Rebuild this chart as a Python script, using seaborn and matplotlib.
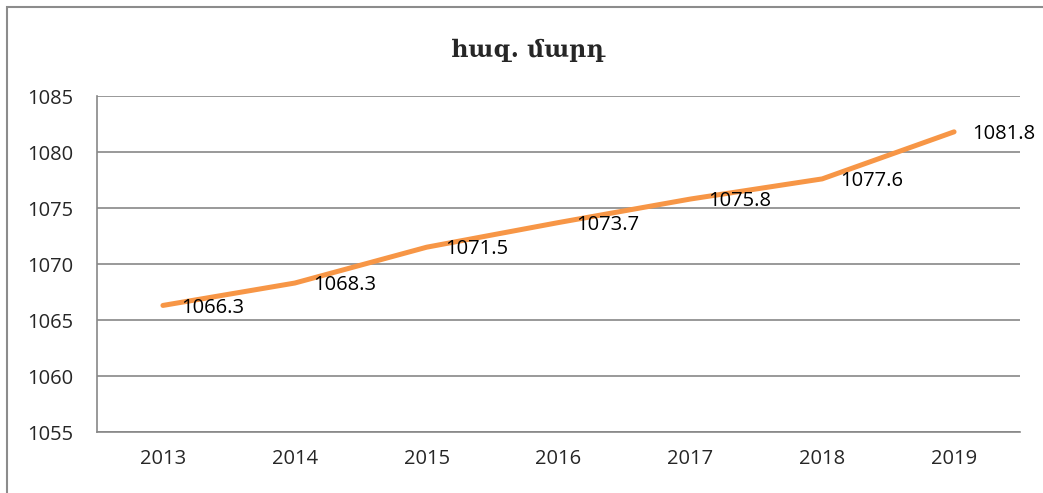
import matplotlib
matplotlib.use("Agg")
import matplotlib.pyplot as plt
import seaborn as sns
import pandas as pd
from matplotlib.patches import Rectangle

years = ["2013", "2014", "2015", "2016", "2017", "2018", "2019"]
values = [1066.3, 1068.3, 1071.5, 1073.7, 1075.8, 1077.6, 1081.8]
title = "հազ. մարդ"
yticks = [1055, 1060, 1065, 1070, 1075, 1080, 1085]

sns.set_theme(style="white")
plt.rcParams['font.family'] = ['Open Sans', 'DejaVu Sans']

W, H = 1043, 493
fig = plt.figure(figsize=(W / 100, H / 100), dpi=100)
ax = fig.add_axes([97 / W, 1 - 432 / H, (1020 - 97) / W, (432 - 96) / H])

df = pd.DataFrame({"year": years, "value": values})
df["x"] = range(len(years))
sns.lineplot(data=df, x="x", y="value", ax=ax, color="#F79646", lw=3.6,
             solid_capstyle="round", solid_joinstyle="round")

ax.set_xlim(-0.5, len(years) - 0.5)
ax.set_ylim(1055, 1085)
ax.set_yticks(yticks)
ax.set_yticklabels([str(t) for t in yticks], fontsize=14.5)
ax.set_xticks(range(len(years)))
ax.set_xticklabels(years, fontsize=14.5)
ax.tick_params(axis="y", pad=17, length=0)
ax.tick_params(axis="x", pad=12, length=0)
ax.set_xlabel("")
ax.set_ylabel("")
ax.yaxis.grid(True, color="#878787", lw=1.2)
ax.xaxis.grid(False)
for s in ["top", "right"]:
    ax.spines[s].set_visible(False)
for s in ["left", "bottom"]:
    ax.spines[s].set_color("#878787")
    ax.spines[s].set_linewidth(1.2)

for i, v in enumerate(values):
    ax.annotate(f"{v:.1f}", (i, v), xytext=(13, -1.5), textcoords="offset points",
                ha="left", va="center", fontsize=14.5, color="black")

fig.text(528 / W, 1 - 50 / H, title, ha="center", va="center", fontsize=17,
         fontweight="bold", family=["DejaVu Serif", "DejaVu Sans"])

# outer chart frame (partially visible)
fig.patches.append(Rectangle((7 / W, -0.1), 1.2, 1 - 7 / H + 0.1, transform=fig.transFigure,
                             fill=False, edgecolor="#8c8c8c", lw=1.5))

fig.savefig("out.png", dpi=100, facecolor="white")
